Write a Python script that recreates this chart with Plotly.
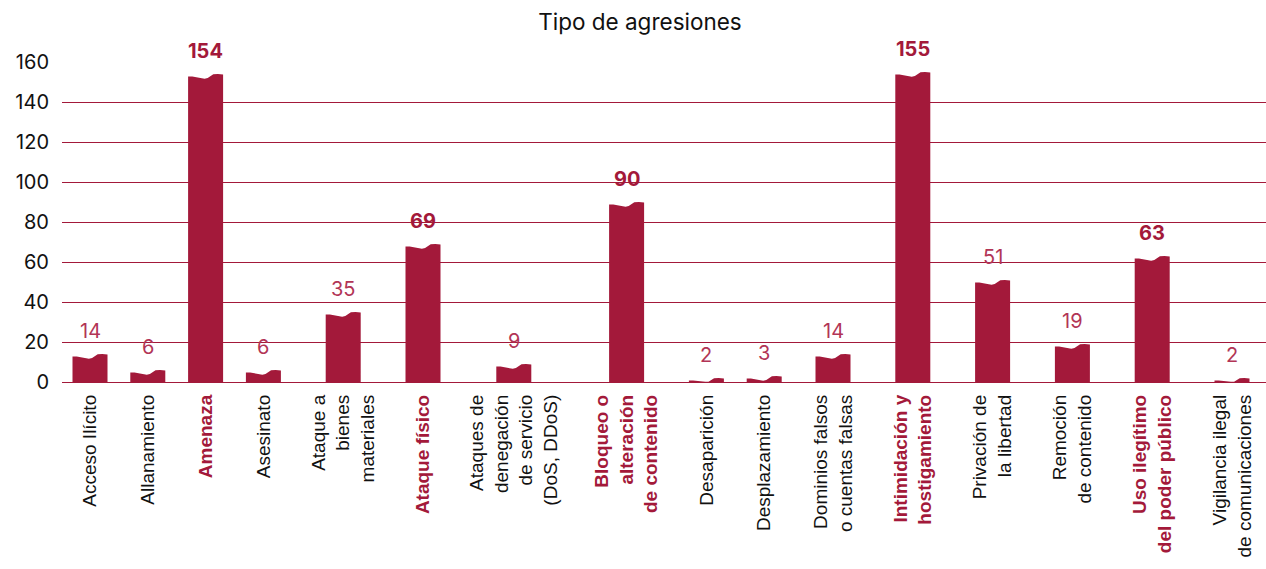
import plotly.graph_objects as go

categories = [
    "Acceso Ilícito", "Allanamiento", "Amenaza", "Asesinato",
    "Ataque a<br>bienes<br>materiales", "Ataque físico",
    "Ataques de<br>denegación<br>de servicio<br>(DoS, DDoS)",
    "Bloqueo o<br>alteración<br>de contenido", "Desaparición", "Desplazamiento",
    "Dominios falsos<br>o cuentas falsas", "Intimidación y<br>hostigamiento",
    "Privación de<br>la libertad", "Remoción<br>de contenido",
    "Uso ilegítimo<br>del poder público", "Vigilancia ilegal<br>de comunicaciones",
]
values = [14, 6, 154, 6, 35, 69, 9, 90, 2, 3, 14, 155, 51, 19, 63, 2]
highlight = [False, False, True, False, False, True, False, True,
             False, False, False, True, False, False, True, False]
y_ticks = [0, 20, 40, 60, 80, 100, 120, 140, 160]

RED = "#A3193A"
LABEL_RED = "#B23556"

# Category slots sized by the number of lines in each label (px-like units)
SLOT_PAD = 35.8
LINE_W = 22.0
BAR_W = 35.0
lines = [c.count("<br>") + 1 for c in categories]
centers = []
acc = 0.0
for n in lines:
    w = SLOT_PAD + LINE_W * n
    centers.append(acc + w / 2)
    acc += w
PLOT_W = 1266 - 62
x_start = centers[0] - 28
x_range = [x_start, x_start + PLOT_W]

# wavy top profile (fraction across bar, offset below value in data units)
wave_t = [0.0, 0.12, 0.25, 0.38, 0.47, 0.56, 0.65, 0.72, 0.85, 0.96, 1.0]
wave_d = [-1.2, -1.25, -1.6, -2.2, -2.4, -2.0, -0.8, -0.15, 0.0, 0.0, -0.3]

xs, ys = [], []
for c, v in zip(centers, values):
    x0 = c - BAR_W / 2
    xs.append(x0); ys.append(0)
    for t, d in zip(wave_t, wave_d):
        xs.append(x0 + t * BAR_W)
        ys.append(max(v + d, 0.15))
    xs.append(x0 + BAR_W); ys.append(0)
    xs.append(x0); ys.append(0)
    xs.append(None); ys.append(None)

fig = go.Figure()
fig.add_trace(go.Scatter(
    x=xs, y=ys, mode="lines", fill="toself", fillcolor=RED,
    line=dict(color=RED, width=0), hoverinfo="skip", showlegend=False,
))

for c, v, h in zip(centers, values, highlight):
    fig.add_annotation(
        x=c, y=v, xref="x", yref="y", yshift=23, showarrow=False,
        text=f"<b>{v}</b>" if h else str(v),
        font=dict(family="Inter, Lato, sans-serif", size=20,
                  color=RED if h else LABEL_RED),
    )

ticktext = [
    f"<b><span style='color:{RED}'>{c}</span></b>" if h else c
    for c, h in zip(categories, highlight)
]

fig.update_layout(
    width=1266, height=569,
    margin=dict(l=62, r=0, t=62, b=187),
    paper_bgcolor="white", plot_bgcolor="white",
    title=dict(text="Tipo de agresiones", x=0.5055, xref="container",
               y=0.961, yref="container", xanchor="center", yanchor="middle",
               font=dict(family="Inter, sans-serif", size=22.5, color="#111111")),
    xaxis=dict(
        range=x_range, tickmode="array",
        tickvals=centers, ticktext=ticktext,
        tickangle=-90, showgrid=False, zeroline=False, showline=False,
        ticks="", ticklabelstandoff=8, automargin=False,
        tickfont=dict(family="Liberation Sans, Arial, sans-serif", size=19,
                      color="#111111"),
    ),
    yaxis=dict(
        range=[0, 160], tickmode="array", tickvals=y_ticks,
        showgrid=True, gridcolor=RED, gridwidth=1,
        zeroline=True, zerolinecolor=RED, zerolinewidth=1,
        showline=False, ticks="", ticklabelstandoff=12, automargin=False,
        tickfont=dict(family="Inter, sans-serif", size=20, color="#111111"),
    ),
)

fig.write_html(
    "out.html",
    config={"displayModeBar": False},
    post_script="document.body.style.margin='0';document.body.style.overflow='hidden';",
)
